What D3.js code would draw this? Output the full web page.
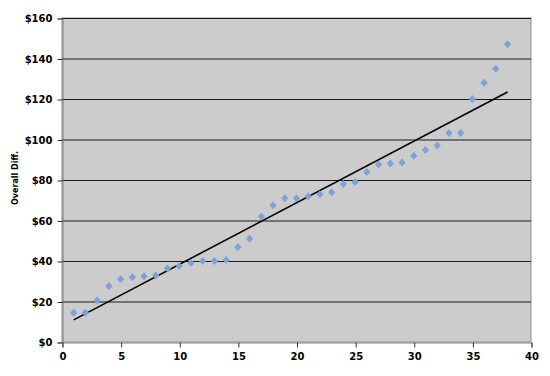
<!DOCTYPE html>
<meta charset="utf-8">
<script src="https://d3js.org/d3.v7.min.js"></script>
<style>
  body { margin: 0; background: #fff; }
  text { font-family: "DejaVu Sans", Verdana, sans-serif; font-weight: bold; }
</style>
<body>
<svg width="550" height="376"></svg>
<script>
    // data
    var xs     = d3.range(1, 39);
    var values = [14.5, 14.5, 20.5, 27.5, 31, 32, 32.5, 33, 36.3, 37.5,
                  39, 40, 40, 40.5, 46.8, 51, 62, 67.5, 71, 71,
                  72, 73, 74, 78, 79, 84, 87.7, 88.2, 88.7, 92,
                  94.8, 97, 103.2, 103.2, 120, 128, 135, 147];
    var xTicks = [0, 5, 10, 15, 20, 25, 30, 35, 40];
    var yTicks = [0, 20, 40, 60, 80, 100, 120, 140, 160];
    var yTitle = 'Overall Diff.';

    var svg = d3.select('svg');
    var pLeft = 62, pRight = 531, pTop = 18, pBottom = 342;

    var x = d3.scaleLinear().domain([0, 40]).range([pLeft, pRight]);
    var y = d3.scaleLinear().domain([0, 160]).range([pBottom, pTop]);

    // plot area
    svg.append('rect')
        .attr('x', pLeft).attr('y', pTop)
        .attr('width', pRight - pLeft).attr('height', pBottom - pTop)
        .attr('fill', '#cccccc')
        .attr('stroke', '#8c8c8c');

    // gridlines
    svg.append('g').selectAll('line').data(yTicks.slice(1))
        .enter().append('line')
        .attr('x1', pLeft).attr('x2', pRight)
        .attr('y1', function(d){ return y(d) + 0.5; })
        .attr('y2', function(d){ return y(d) + 0.5; })
        .attr('stroke', '#1a1a1a').attr('stroke-width', 1);

    // axes
    var yAxis = svg.append('g')
        .attr('transform', 'translate(' + (pLeft + 0.5) + ',0.5)')
        .call(d3.axisLeft(y).tickValues(yTicks).tickSize(5).tickPadding(5)
            .tickFormat(function(d){ return '$' + d; }));
    var xAxis = svg.append('g')
        .attr('transform', 'translate(0.5,' + (pBottom + 0.5) + ')')
        .call(d3.axisBottom(x).tickValues(xTicks).tickSize(5).tickPadding(5));

    [yAxis, xAxis].forEach(function(g){
        g.select('.domain').attr('stroke', '#808080');
        g.selectAll('.tick line').attr('stroke', '#333');
        g.selectAll('text').attr('font-size', 10)
            .attr('font-family', '"DejaVu Sans", Verdana, sans-serif')
            .attr('font-weight', 'bold').attr('fill', '#000');
    });

    svg.append('text')
        .attr('transform', 'translate(18,' + ((pTop + pBottom) / 2 - 2) + ') rotate(-90)')
        .attr('text-anchor', 'middle')
        .attr('font-size', 8)
        .text(yTitle);

    // linear trend, least squares over the points
    var mx = d3.mean(xs), my = d3.mean(values);
    var slope = d3.sum(xs, function(d, i){ return (d - mx) * (values[i] - my); }) /
                d3.sum(xs, function(d){ return (d - mx) * (d - mx); });
    var icpt = my - slope * mx;
    var x0 = xs[0], x1 = xs[xs.length - 1];

    svg.append('line')
        .attr('x1', x(x0)).attr('y1', y(icpt + slope * x0))
        .attr('x2', x(x1)).attr('y2', y(icpt + slope * x1))
        .attr('stroke', '#000').attr('stroke-width', 1.6);

    // diamonds (a bit wider than d3.symbolDiamond)
    var diamond = 'M0,-4L3.6,0L0,4L-3.6,0Z';
    svg.append('g').selectAll('path').data(values)
        .enter().append('path')
        .attr('d', diamond)
        .attr('transform', function(d, i){ return 'translate(' + x(xs[i]) + ',' + y(d) + ')'; })
        .attr('fill', '#7ea2d8');
</script>
</body>
